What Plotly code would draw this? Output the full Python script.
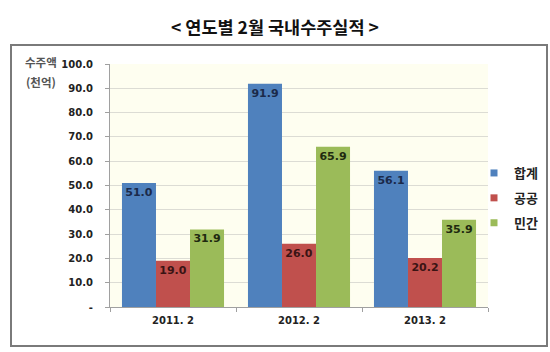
import plotly.graph_objects as go

categories = ["2011. 2", "2012. 2", "2013. 2"]
series_names = ["합계", "공공", "민간"]
total = [51.0, 91.9, 56.1]
public = [19.0, 26.0, 20.2]
private = [31.9, 65.9, 35.9]
tick_vals = [0, 10, 20, 30, 40, 50, 60, 70, 80, 90, 100]
tick_text = ["-", "10.0", "20.0", "30.0", "40.0", "50.0", "60.0", "70.0", "80.0", "90.0", "100.0"]
colors = ["#4F81BD", "#C0504D", "#9BBB59"]
label_colors = ["#1B2A4A", "#3A1414", "#1F2A10"]

fig = go.Figure()
for i, (name, vals) in enumerate(zip(series_names, [total, public, private])):
    fig.add_trace(go.Bar(
        x=categories, y=vals, name=name,
        marker=dict(color=colors[i], line=dict(width=0)),
        text=[f"{v:.1f}" for v in vals],
        textposition="inside", insidetextanchor="end", textangle=0,
        textfont=dict(family="DejaVu Sans", size=11, color=label_colors[i], weight="bold"),
        constraintext="none", showlegend=False,
    ))
# legend entries with small square markers
for i, name in enumerate(series_names):
    fig.add_trace(go.Scatter(
        x=[None], y=[None], mode="markers", name=name,
        marker=dict(symbol="square", size=7, color=colors[i]),
        legendgroup=name, showlegend=True,
    ))

fig.update_layout(
    width=550, height=352,
    margin=dict(l=110, r=62, t=64, b=45, autoexpand=False),
    paper_bgcolor="white", plot_bgcolor="#FEFEF0",
    barmode="group", bargap=0.19, bargroupgap=0,
    showlegend=True,
    legend=dict(xref="container", yref="container", x=474 / 550, y=1 - 198 / 352,
                xanchor="left", yanchor="middle",
                font=dict(family="Noto Sans CJK KR", size=13, color="#222", weight="bold"),
                tracegroupgap=5, itemwidth=30, bgcolor="rgba(0,0,0,0)"),
    font=dict(family="DejaVu Sans"),
)
fig.update_yaxes(range=[0, 100], tickvals=tick_vals, ticktext=tick_text,
                 tickfont=dict(family="DejaVu Sans", size=10, color="#222", weight="bold"),
                 showgrid=True, gridcolor="#DCDCD4", gridwidth=1,
                 showline=True, linecolor="#A0A0A0", linewidth=1,
                 ticks="outside", ticklen=4, tickcolor="#A0A0A0", zeroline=False,
                 ticklabelstandoff=10)
fig.update_xaxes(tickfont=dict(family="DejaVu Sans", size=10, color="#222", weight="bold"),
                 showline=True, linecolor="#A0A0A0", linewidth=1,
                 ticks="outside", ticklen=4, tickcolor="#A0A0A0", tickson="boundaries",
                 ticklabelstandoff=4)

# outer frame
fig.add_shape(type="rect", xref="paper", yref="paper",
              x0=(11 - 110) / 378, x1=(547 - 110) / 378,
              y0=(307 - 346) / 243, y1=(307 - 45) / 243,
              line=dict(color="#7A7A7A", width=2), layer="below")

# title
fig.add_annotation(text="< 연도별 2월 국내수주실적 >", xref="paper", yref="paper",
                   x=(275 - 110) / 378, y=(307 - 26) / 243, showarrow=False,
                   xanchor="center", yanchor="middle",
                   font=dict(family="Noto Sans CJK KR", size=17.5, color="#111", weight="bold"))
# y axis title
for txt, yy in [("수주액", 62), ("(천억)", 82)]:
    fig.add_annotation(text=txt, xref="paper", yref="paper",
                       x=(41 - 110) / 378, y=(307 - yy) / 243, showarrow=False,
                       xanchor="center", yanchor="middle",
                       font=dict(family="Noto Sans CJK KR", size=11.5, color="#555", weight="bold"))

fig.write_html("out.html")
